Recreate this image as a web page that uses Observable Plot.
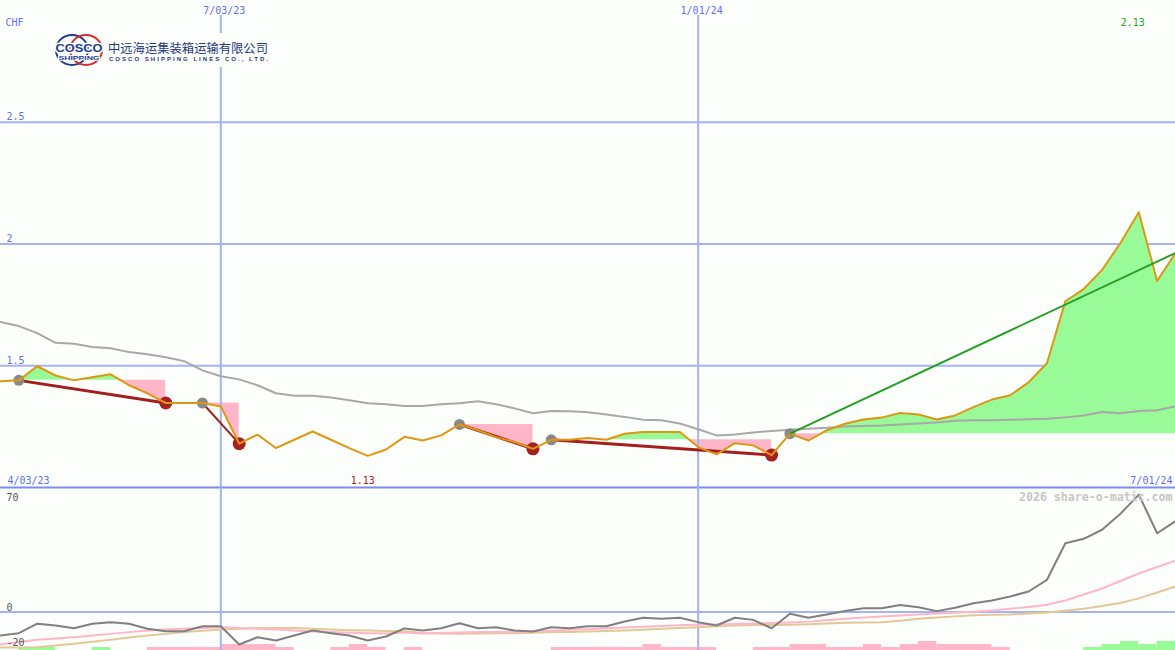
<!DOCTYPE html>
<html>
<head>
<meta charset="utf-8">
<script src="https://cdn.jsdelivr.net/npm/d3@7"></script>
<script src="https://cdn.jsdelivr.net/npm/@observablehq/plot@0.6"></script>
<style>
  body { margin: 0; background: #fcfefc; }
  #chart { position: relative; width: 1175px; height: 650px; overflow: hidden; background: #fcfefc; }
  #chart > svg { position: absolute; left: 0; }
  #logo { position: absolute; left: 50px; top: 33px; width: 226px; height: 34px; background: #fcfefc; }
</style>
</head>
<body>
<div id="chart"></div>
<script>
// ---- data (weekly, index 0..64) ----
const price = [1.436,1.44,1.498,1.46,1.44,1.453,1.465,1.42,1.387,1.347,
  1.347,1.347,1.333,1.18,1.217,1.162,1.196,1.23,1.196,1.162,
  1.13,1.156,1.208,1.193,1.214,1.259,1.235,1.207,1.187,1.159,
  1.196,1.196,1.203,1.196,1.221,1.228,1.228,1.228,1.166,1.136,
  1.182,1.173,1.133,1.221,1.193,1.235,1.262,1.279,1.287,1.306,
  1.30,1.279,1.296,1.33,1.361,1.379,1.432,1.51,1.765,1.815,
  1.893,2.004,2.13,1.848,1.963];
const movingAvg = [1.680,1.663,1.634,1.594,1.590,1.577,1.572,1.556,1.547,1.535,
  1.519,1.481,1.457,1.444,1.420,1.387,1.377,1.377,1.370,1.358,
  1.346,1.342,1.335,1.335,1.342,1.346,1.354,1.342,1.325,1.305,
  1.314,1.313,1.309,1.300,1.290,1.278,1.276,1.263,1.239,1.214,
  1.218,1.226,1.232,1.237,1.241,1.245,1.251,1.253,1.255,1.259,
  1.263,1.267,1.274,1.276,1.276,1.278,1.280,1.282,1.288,1.296,
  1.310,1.305,1.314,1.317,1.333];
const oscMain = [-13.4,-12.1,-6.7,-7.7,-9.3,-6.7,-5.8,-6.7,-9.6,-11.0,
  -11.0,-8.1,-8.1,-18.6,-14.4,-16.3,-13.4,-10.6,-12.1,-13.4,
  -16.3,-14.0,-9.4,-10.6,-9.3,-6.4,-9.3,-8.7,-10.6,-11.1,
  -8.7,-9.3,-8.1,-8.1,-5.4,-3.3,-3.9,-3.3,-5.8,-7.7,
  -3.3,-4.5,-9.3,-1.0,-3.3,-1.4,0.6,2.2,2.2,4.0,
  2.7,0.5,2.4,5.0,6.6,8.9,11.7,18.4,39.3,41.8,
  47.0,56.1,67.1,45.0,51.9];
const oscPink = [-18.6,-17.1,-15.9,-15.1,-14.4,-13.4,-12.5,-11.5,-10.6,-10.0,
  -9.6,-9.1,-8.7,-9.1,-9.6,-10.0,-10.6,-11.1,-11.5,-11.8,
  -12.1,-12.3,-11.7,-12.3,-12.0,-11.7,-11.5,-11.5,-11.5,-11.1,
  -10.7,-10.2,-9.8,-9.3,-8.9,-8.5,-8.0,-7.5,-7.3,-7.1,
  -6.9,-6.6,-6.3,-6.0,-5.5,-4.7,-3.9,-3.1,-2.6,-2.0,
  -1.4,-0.9,-0.5,0.1,0.9,1.8,2.9,4.1,6.6,10.0,
  13.4,17.7,22.0,25.7,29.4];
const oscTan = [-20.3,-20.3,-20.1,-19.1,-18.2,-17.0,-15.9,-14.6,-13.4,-12.5,
  -11.5,-10.7,-10.0,-9.6,-9.1,-9.1,-9.2,-9.6,-10.0,-10.4,
  -10.6,-10.8,-11.0,-12.0,-12.3,-12.5,-12.3,-12.2,-12.1,-11.8,
  -11.5,-11.4,-11.1,-10.9,-10.6,-10.1,-9.6,-9.1,-8.7,-8.2,
  -7.7,-7.5,-7.4,-7.3,-7.0,-6.6,-6.2,-6.0,-5.9,-5.0,
  -3.9,-3.1,-2.5,-1.8,-1.6,-1.4,-0.9,-0.3,0.7,1.8,
  3.4,5.1,7.8,11.1,14.6];
const histo = [0,1,1,0,0,1,0,0,-1,-1,
  -1,-1,-2,-2,-2,-1,0,0,-1,-2,
  -1,0,-1,0,0,0,0,0,0,0,
  -1,-1,-1,-1,-1,-2,-1,-1,-1,0,
  0,-1,-1,-2,-2,-1,-1,-2,-1,-2,
  -3,-2,-2,-2,-1,0,0,0,0,1,
  2,3,2,3];
const buyIdx  = [1, 11, 25, 30, 43];
const sellIdx = [9, 13, 29, 42, null];
const xTickIdx = [12, 38];
const xTickLabels = ["7/03/23", "1/01/24"];
const startLabel = "4/03/23", endLabel = "7/01/24";
const priceTicks = [1.5, 2, 2.5];
const oscTicksLow = [0, -20];
const oscTickTop = [70];
const currency = "CHF";
const watermark = "2026 share-o-matic.com";

// ---- derived ----
const last = price.length - 1;
const trades = buyIdx.map((b, k) => ({b, s: sellIdx[k] ?? last, open: sellIdx[k] == null}));
const fills = [];
trades.forEach((t, seg) => {
  const L = price[t.b];
  for (let i = t.b; i <= t.s; i++) {
    fills.push({seg, x: i, p: price[i], L});
    if (i < t.s) {
      const a = price[i] - L, c = price[i + 1] - L;
      if (a * c < 0) fills.push({seg, x: i + a / (a - c), p: L, L});
    }
  }
});
const iMax = price.indexOf(d3.max(price));
const iMin = price.indexOf(d3.min(price));

const grid = "#a6b2f4", axisC = "#7c8cf0", lab = "#5f70ee";
const font = {fontFamily: "DejaVu Sans Mono, monospace", fontSize: "10px", background: "transparent", overflow: "visible"};
const xs = {domain: [0, last], axis: null};
const idx = (d, i) => i;

const main = Plot.plot({
  width: 1175, height: 487, margin: 0,
  x: xs, y: {domain: [1, 3], axis: null},
  style: font,
  marks: [
    Plot.ruleY(priceTicks, {stroke: grid, strokeWidth: 2}),
    Plot.areaY(fills, {x: "x", y1: "L", y2: d => Math.max(d.p, d.L), z: "seg", fill: "#98fb98"}),
    Plot.areaY(fills, {x: "x", y1: "L", y2: d => Math.min(d.p, d.L), z: "seg", fill: "#ffb6c8"}),
    Plot.ruleX(xTickIdx, {stroke: grid, strokeWidth: 2, insetTop: 15}),
    Plot.line(movingAvg, {x: idx, y: d => d, stroke: "#a8a8a8", strokeWidth: 2}),
    Plot.link(trades.filter(t => !t.open), {x1: "b", x2: "s", y1: t => price[t.b], y2: t => price[t.s],
      stroke: "#a31f1f", strokeWidth: t => (t.s - t.b > 3 ? 3 : 2)}),
    Plot.dot(buyIdx, {x: d => d, y: d => price[d], r: 5.5, fill: "#898989"}),
    Plot.dot(sellIdx.filter(d => d != null), {x: d => d, y: d => price[d], r: 6.5, fill: "#a52020"}),
    Plot.line(price, {x: idx, y: d => d, stroke: "#df9712", strokeWidth: 2}),
    Plot.link(trades.filter(t => t.open), {x1: "b", x2: "s", y1: t => price[t.b], y2: t => price[t.s],
      stroke: "#23a023", strokeWidth: 2}),
    Plot.ruleY([1], {stroke: axisC, strokeWidth: 2}),
    Plot.text(priceTicks, {x: 0, y: d => d, text: d => String(d), textAnchor: "start", lineAnchor: "bottom", dx: 6, dy: -2, fill: lab}),
    Plot.text([currency], {frameAnchor: "top-left", text: d => d, textAnchor: "start", lineAnchor: "bottom", dx: 5, dy: 25, fill: lab}),
    Plot.text(xTickIdx, {x: d => d, frameAnchor: "top", text: (d, i) => xTickLabels[i], lineAnchor: "bottom", dx: 3.5, dy: 13, fill: lab}),
    Plot.text([iMax], {x: d => d, frameAnchor: "top", text: d => price[d].toFixed(2), textAnchor: "end", lineAnchor: "bottom", dx: 6, dy: 25, fill: "#28a028"}),
    Plot.text([startLabel], {frameAnchor: "bottom-left", text: d => d, textAnchor: "start", lineAnchor: "bottom", dx: 7, dy: -4, fill: lab}),
    Plot.text([iMin], {x: d => d, frameAnchor: "bottom", text: d => price[d].toFixed(2), lineAnchor: "bottom", dx: -5, dy: -4, fill: "#a52020"}),
    Plot.text([endLabel], {frameAnchor: "bottom-right", text: d => d, textAnchor: "end", lineAnchor: "bottom", dx: -3, dy: -4, fill: lab})
  ]
});
main.style.top = "0px";

const bars = Plot.plot({
  width: 1175, height: 163, margin: 0,
  x: xs, y: {domain: [0, 163 / 3], axis: null},
  style: font,
  marks: [
    Plot.rectY(histo, {x1: idx, x2: (d, i) => i + 1, y1: 0, y2: d => Math.abs(d),
      fill: d => (d > 0 ? "#98fb98" : "#ffb6c8")})
  ]
});
bars.style.top = "487px";

const lower = Plot.plot({
  width: 1175, height: 163, margin: 0,
  x: xs, y: {domain: [-22, 71.14], axis: null},
  style: font,
  marks: [
    Plot.ruleY([0], {stroke: grid, strokeWidth: 2}),
    Plot.ruleX(xTickIdx, {stroke: grid, strokeWidth: 2}),
    Plot.line(oscTan, {x: idx, y: d => d, stroke: "#e3c897", strokeWidth: 2}),
    Plot.line(oscPink, {x: idx, y: d => d, stroke: "#ffb6c8", strokeWidth: 2}),
    Plot.line(oscMain, {x: idx, y: d => d, stroke: "#808080", strokeWidth: 2}),
    Plot.text(oscTickTop, {x: 0, y: d => d, text: d => String(d), textAnchor: "start", lineAnchor: "top", dx: 6, dy: 4, fill: "#555"}),
    Plot.text(oscTicksLow, {x: 0, y: d => d, text: d => String(d), textAnchor: "start", lineAnchor: "bottom", dx: 6, dy: -1, fill: "#555"}),
    Plot.text([watermark], {frameAnchor: "top-right", text: d => d, textAnchor: "end", lineAnchor: "top", dx: -3, dy: 5,
      fill: "#c6c6c6", fontWeight: "bold", fontSize: 11.6})
  ]
});
lower.style.top = "487px";

const chart = document.getElementById("chart");
chart.append(main, bars, lower);

// logo (image stand-in)
const logo = document.createElement("div");
logo.id = "logo";
logo.innerHTML = `<svg width="226" height="34" viewBox="0 0 226 34" xmlns="http://www.w3.org/2000/svg">
  <ellipse cx="22" cy="17" rx="16" ry="15" fill="none" stroke="#1f3c8c" stroke-width="2"/>
  <ellipse cx="36" cy="17" rx="16" ry="15" fill="none" stroke="#d8282c" stroke-width="2"/>
  <text x="29" y="19" text-anchor="middle" font-family="Liberation Sans, Arial, sans-serif" font-weight="bold" font-size="11.5"
    textLength="47" lengthAdjust="spacingAndGlyphs" fill="#1f3c8c" stroke="#fcfefc" stroke-width="3" paint-order="stroke">COSCO</text>
  <text x="29" y="27" text-anchor="middle" font-family="Liberation Sans, Arial, sans-serif" font-weight="bold" font-size="5.4"
    textLength="41" lengthAdjust="spacingAndGlyphs" fill="#1f3c8c" stroke="#fcfefc" stroke-width="1.6" paint-order="stroke">SHIPPING</text>
  <text x="58" y="19.5" font-family="Noto Sans CJK SC, sans-serif" font-size="12.3" textLength="160" lengthAdjust="spacingAndGlyphs" fill="#1e3a78">中远海运集装箱运输有限公司</text>
  <text x="59" y="28" font-family="Liberation Sans, Arial, sans-serif" font-size="6" font-weight="bold" textLength="159" lengthAdjust="spacing" fill="#1e3a78">COSCO SHIPPING LINES CO., LTD.</text>
</svg>`;
chart.append(logo);
</script>
</body>
</html>
